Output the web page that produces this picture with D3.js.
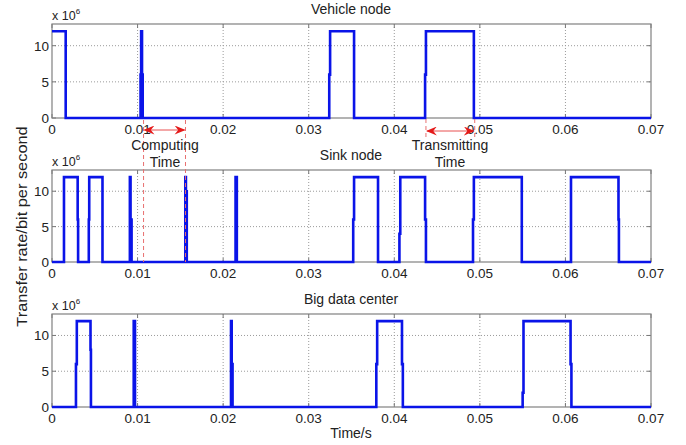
<!DOCTYPE html>
<html><head><meta charset="utf-8">
<script src="https://cdn.jsdelivr.net/npm/d3@7"></script>
<style>body{margin:0;background:#fff}svg{display:block}text{font-family:"Liberation Sans",Arial,sans-serif;fill:#222}</style>
</head><body><svg id="c" width="686" height="445"></svg>
<script>
// ---- data (step-after change points: rate holds from each time until the next) ----
const panelTitles = ["Vehicle node", "Sink node", "Big data center"];
const xTicks = [0, 0.01, 0.02, 0.03, 0.04, 0.05, 0.06, 0.07];
const yTicks = [0, 5, 10];

const vehicleTime = [0, 0.0016, 0.01035, 0.01042, 0.01052, 0.0106, 0.0324, 0.0325, 0.0353, 0.0436, 0.0437, 0.0493, 0.07];
const vehicleRate = [12, 0, 6, 12, 6, 0, 6, 12, 0, 6, 12, 0, 0];

const sinkTime = [0, 0.0014, 0.0030, 0.00305, 0.0043, 0.00435, 0.0059, 0.0091, 0.00918, 0.0093, 0.01558, 0.01565, 0.01575, 0.02145, 0.0216, 0.0352, 0.0353, 0.0381, 0.0406, 0.0407, 0.0436, 0.0437, 0.0492, 0.0493, 0.0549, 0.06065, 0.0662, 0.06625, 0.07];
const sinkRate = [0, 12, 6, 0, 6, 12, 0, 12, 6, 0, 12, 10, 0, 12, 0, 6, 12, 0, 4, 12, 6, 0, 6, 12, 0, 12, 6, 0, 0];

const centerTime = [0, 0.0028, 0.0029, 0.0045, 0.00455, 0.00955, 0.0097, 0.02092, 0.021, 0.0211, 0.0379, 0.0380, 0.0409, 0.0410, 0.0550, 0.0551, 0.0606, 0.0607, 0.07];
const centerRate = [0, 6, 12, 8, 0, 12, 0, 12, 6, 0, 6, 12, 6, 0, 2, 12, 6, 0, 0];

const seriesTimes = [vehicleTime, sinkTime, centerTime];
const seriesRates = [vehicleRate, sinkRate, centerRate];

// annotation intervals (time/s)
const computingSpan = [0.0107, 0.0156];
const transmittingSpan = [0.0437, 0.0494];

// ---- layout ----
const svg = d3.select("#c");
const L = 52, R = 651;
const panels = [{top: 24, bottom: 118}, {top: 170, bottom: 262}, {top: 314, bottom: 407}];
const x = d3.scaleLinear().domain([0, 0.07]).range([L, R]);

const defs = svg.append("defs");
defs.append("marker").attr("id", "ah").attr("viewBox", "0 0 12 10")
  .attr("refX", 11).attr("refY", 5).attr("markerWidth", 11).attr("markerHeight", 9)
  .attr("markerUnits", "userSpaceOnUse").attr("orient", "auto-start-reverse")
  .append("path").attr("d", "M0,0 L12,5 L0,10 L4,5 Z").attr("fill", "#e41a1a");

panels.forEach((p, i) => {
  const y = d3.scaleLinear().domain([0, 13]).range([p.bottom, p.top]);
  const g = svg.append("g");
  // grid
  g.selectAll(".gx").data(xTicks.slice(1, -1)).join("line")
    .attr("x1", d => x(d)).attr("x2", d => x(d)).attr("y1", p.top).attr("y2", p.bottom)
    .attr("stroke", "#9a9a9a").attr("stroke-width", 1).attr("stroke-dasharray", "1,2");
  g.selectAll(".gy").data(yTicks.slice(1)).join("line")
    .attr("x1", L).attr("x2", R).attr("y1", d => y(d)).attr("y2", d => y(d))
    .attr("stroke", "#9a9a9a").attr("stroke-width", 1).attr("stroke-dasharray", "1,2");
  // inward ticks
  const tl = 4;
  xTicks.forEach(t => {
    g.append("line").attr("x1", x(t)).attr("x2", x(t)).attr("y1", p.bottom).attr("y2", p.bottom - tl).attr("stroke", "#777");
    g.append("line").attr("x1", x(t)).attr("x2", x(t)).attr("y1", p.top).attr("y2", p.top + tl).attr("stroke", "#777");
  });
  yTicks.forEach(t => {
    g.append("line").attr("x1", L).attr("x2", L + tl).attr("y1", y(t)).attr("y2", y(t)).attr("stroke", "#777");
    g.append("line").attr("x1", R).attr("x2", R - tl).attr("y1", y(t)).attr("y2", y(t)).attr("stroke", "#777");
  });
  // box
  g.append("rect").attr("x", L).attr("y", p.top).attr("width", R - L).attr("height", p.bottom - p.top)
    .attr("fill", "none").attr("stroke", "#808080").attr("stroke-width", 1.2);
  // tick labels
  g.selectAll(".xl").data(xTicks).join("text")
    .attr("x", d => x(d)).attr("y", p.bottom + 16).attr("text-anchor", "middle")
    .attr("font-size", 13.5).text(d => d === 0 ? "0" : d3.format(".2f")(d));
  g.selectAll(".yl").data(yTicks).join("text")
    .attr("x", L - 3).attr("y", d => y(d) + 5).attr("text-anchor", "end")
    .attr("font-size", 13.5).text(d => d);
  // exponent label
  const ex = g.append("text").attr("x", L).attr("y", p.top - 4).attr("font-size", 12.5);
  ex.append("tspan").text("x 10");
  ex.append("tspan").attr("dy", -6).attr("font-size", 8).text("6");
  // title
  g.append("text").attr("x", 351).attr("y", p.top - 10).attr("text-anchor", "middle")
    .attr("font-size", 14).text(panelTitles[i]);
  // data line
  const pts = seriesTimes[i].map((t, k) => [t, seriesRates[i][k]]);
  const line = d3.line().x(d => x(d[0])).y(d => y(d[1])).curve(d3.curveStepAfter);
  g.append("path").attr("d", line(pts)).attr("fill", "none")
    .attr("stroke", "#0a14e8").attr("stroke-width", 2.6).attr("stroke-linejoin", "miter");
});

// axis labels
svg.append("text").attr("transform", "translate(27,226.5) rotate(-90) scale(1.17,1)").attr("text-anchor", "middle")
  .attr("font-size", 14).text("Transfer rate/bit per second");
svg.append("text").attr("x", 351).attr("y", 438).attr("text-anchor", "middle")
  .attr("font-size", 14).text("Time/s");

// annotations
const red = "#e87070";
function dashed(t, y1, y2) {
  svg.append("line").attr("x1", x(t)).attr("x2", x(t)).attr("y1", y1).attr("y2", y2)
    .attr("stroke", red).attr("stroke-width", 1).attr("stroke-dasharray", "4,3");
}
dashed(computingSpan[0], 120, 262);
dashed(computingSpan[1], 120, 262);
dashed(transmittingSpan[0], 119, 138);
dashed(transmittingSpan[1], 119, 138);
function arrow(span, yy) {
  svg.append("line").attr("x1", x(span[0]) + 1).attr("x2", x(span[1]) - 1).attr("y1", yy).attr("y2", yy)
    .attr("stroke", "#e85050").attr("stroke-width", 1)
    .attr("marker-start", "url(#ah)").attr("marker-end", "url(#ah)");
}
arrow(computingSpan, 130);
arrow(transmittingSpan, 131);
function label(lines, cx, y0) {
  lines.forEach((s, k) => svg.append("text").attr("x", cx).attr("y", y0 + k * 16.5)
    .attr("text-anchor", "middle").attr("font-size", 14).text(s));
}
label(["Computing", "Time"], 165, 150);
label(["Transmitting", "Time"], 450, 150);
</script></body></html>
